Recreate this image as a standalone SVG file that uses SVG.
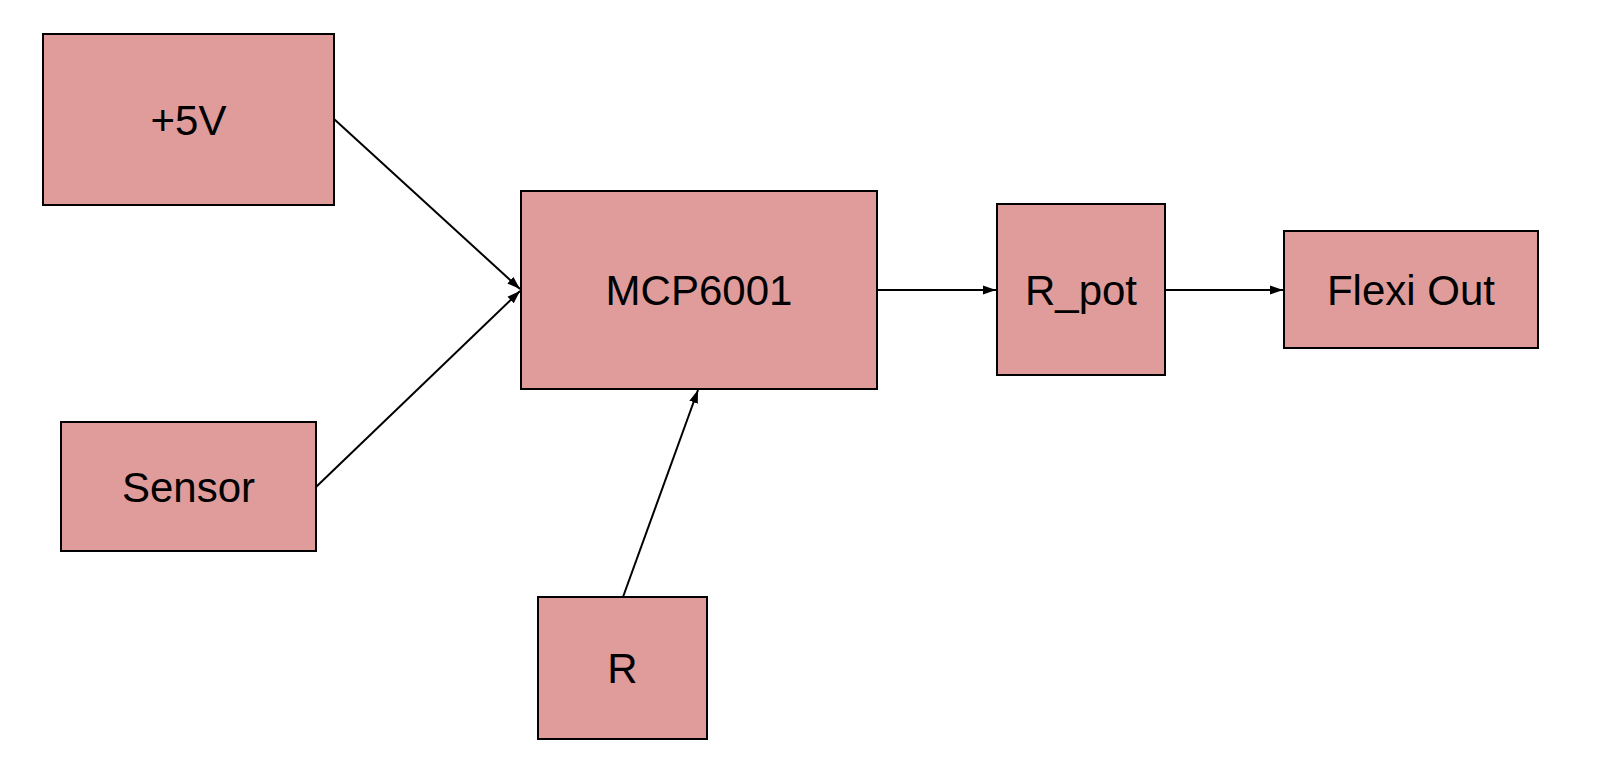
<svg xmlns="http://www.w3.org/2000/svg" width="1624" height="766" viewBox="0 0 1624 766">
<style>
.box{fill:#df9c9b;stroke:#000;stroke-width:2}
.lbl{font-family:"Liberation Sans",Arial,sans-serif;font-size:42px;fill:#000;text-anchor:middle}
.edge{stroke:#000;stroke-width:2;fill:none;marker-end:url(#arr)}
</style>
<defs>
<marker id="arr" markerUnits="userSpaceOnUse" markerWidth="14" markerHeight="10" refX="13" refY="5" orient="auto">
<path d="M0,0.5 L13,5 L0,9.5 z" fill="#000"/>
</marker>
</defs>
<rect width="1624" height="766" fill="#fff"/>
<g id="connectors">
<line class="edge" x1="334" y1="119" x2="520" y2="289"/>
<line class="edge" x1="316" y1="487" x2="520" y2="291"/>
<line class="edge" x1="877" y1="290" x2="996" y2="290"/>
<line class="edge" x1="1165" y1="290" x2="1283" y2="290"/>
<line class="edge" x1="623" y1="597" x2="698" y2="390"/>
</g>
<g id="n5v"><rect class="box" x="43" y="34" width="291" height="171"/><text class="lbl" x="188.5" y="134.5">+5V</text></g>
<g id="sensor"><rect class="box" x="61" y="422" width="255" height="129"/><text class="lbl" x="188.5" y="501.5">Sensor</text></g>
<g id="mcp"><rect class="box" x="521" y="191" width="356" height="198"/><text class="lbl" x="699" y="305">MCP6001</text></g>
<g id="rpot"><rect class="box" x="997" y="204" width="168" height="171"/><text class="lbl" x="1081" y="304.5">R_pot</text></g>
<g id="flexi"><rect class="box" x="1284" y="231" width="254" height="117"/><text class="lbl" x="1411" y="304.5">Flexi Out</text></g>
<g id="r"><rect class="box" x="538" y="597" width="169" height="142"/><text class="lbl" x="622.5" y="683">R</text></g>
</svg>
